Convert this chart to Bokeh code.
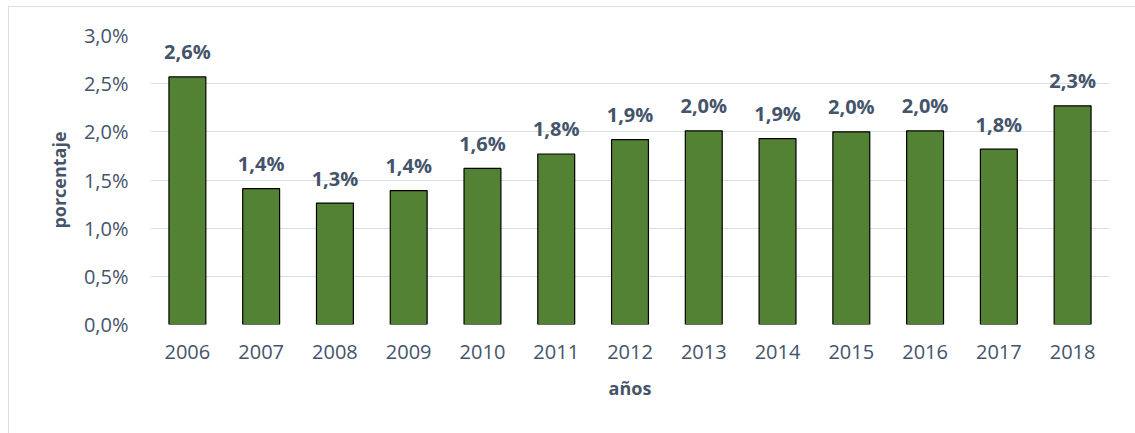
from bokeh.plotting import figure
from bokeh.models import FactorRange, ColumnDataSource, CustomJSTickFormatter
from bokeh.core.properties import value
from bokeh.embed import file_html
from bokeh.resources import INLINE

years = ["2006", "2007", "2008", "2009", "2010", "2011", "2012",
         "2013", "2014", "2015", "2016", "2017", "2018"]
pct = [2.57, 1.41, 1.26, 1.39, 1.62, 1.77, 1.92, 2.01, 1.93, 2.00, 2.01, 1.82, 2.27]
y_ticks = [0.0, 0.5, 1.0, 1.5, 2.0, 2.5, 3.0]
x_title = "años"
y_title = "porcentaje"

labels = [f"{v:.1f}".replace(".", ",") + "%" for v in pct]
src = ColumnDataSource(dict(x=years, y=pct, lab=labels))

FONT = "Open Sans"
TXT = "#44546A"

p = figure(x_range=FactorRange(*years, range_padding=0), y_range=(0, 3.0),
           width=1127, height=427, output_backend="svg", toolbar_location=None,
           min_border_left=141, min_border_right=27, min_border_top=28,
           min_border_bottom=110)
p.styles = {"margin-left": "8px", "margin-top": "6px",
            "border-left": "1px solid #D9DEE4", "border-top": "1px solid #D9DEE4"}
p.outline_line_color = None

p.vbar(x="x", top="y", width=0.5, source=src, fill_color="#548235",
       line_color="#000000", line_width=1.2)
p.text(x="x", y="y", text="lab", source=src, text_align="center",
       text_baseline="middle", y_offset=-25, text_font=value(FONT),
       text_font_style="bold", text_font_size="20px", text_color=TXT)

p.xgrid.grid_line_color = None
p.ygrid.grid_line_color = "#D9DEE4"
p.ygrid.grid_line_width = 1.2
p.yaxis.ticker = y_ticks
p.yaxis.formatter = CustomJSTickFormatter(
    code="return tick.toFixed(1).replace('.', ',') + '%';")

for ax in (p.xaxis, p.yaxis):
    ax.axis_line_color = None
    ax.major_tick_line_color = None
    ax.minor_tick_line_color = None
    ax.major_tick_out = 0
    ax.major_tick_in = 0
    ax.major_label_text_font = FONT
    ax.major_label_text_font_size = "20px"
    ax.major_label_text_color = TXT
    ax.axis_label_text_font = FONT
    ax.axis_label_text_font_style = "bold"
    ax.axis_label_text_font_size = "18px"
    ax.axis_label_text_color = TXT

p.xaxis.axis_label = x_title
p.yaxis.axis_label = y_title
p.yaxis.major_label_standoff = 22
p.xaxis.major_label_standoff = 20
p.yaxis.axis_label_standoff = 10
p.xaxis.axis_label_standoff = 14

open("out.html", "w").write(file_html(p, INLINE))
